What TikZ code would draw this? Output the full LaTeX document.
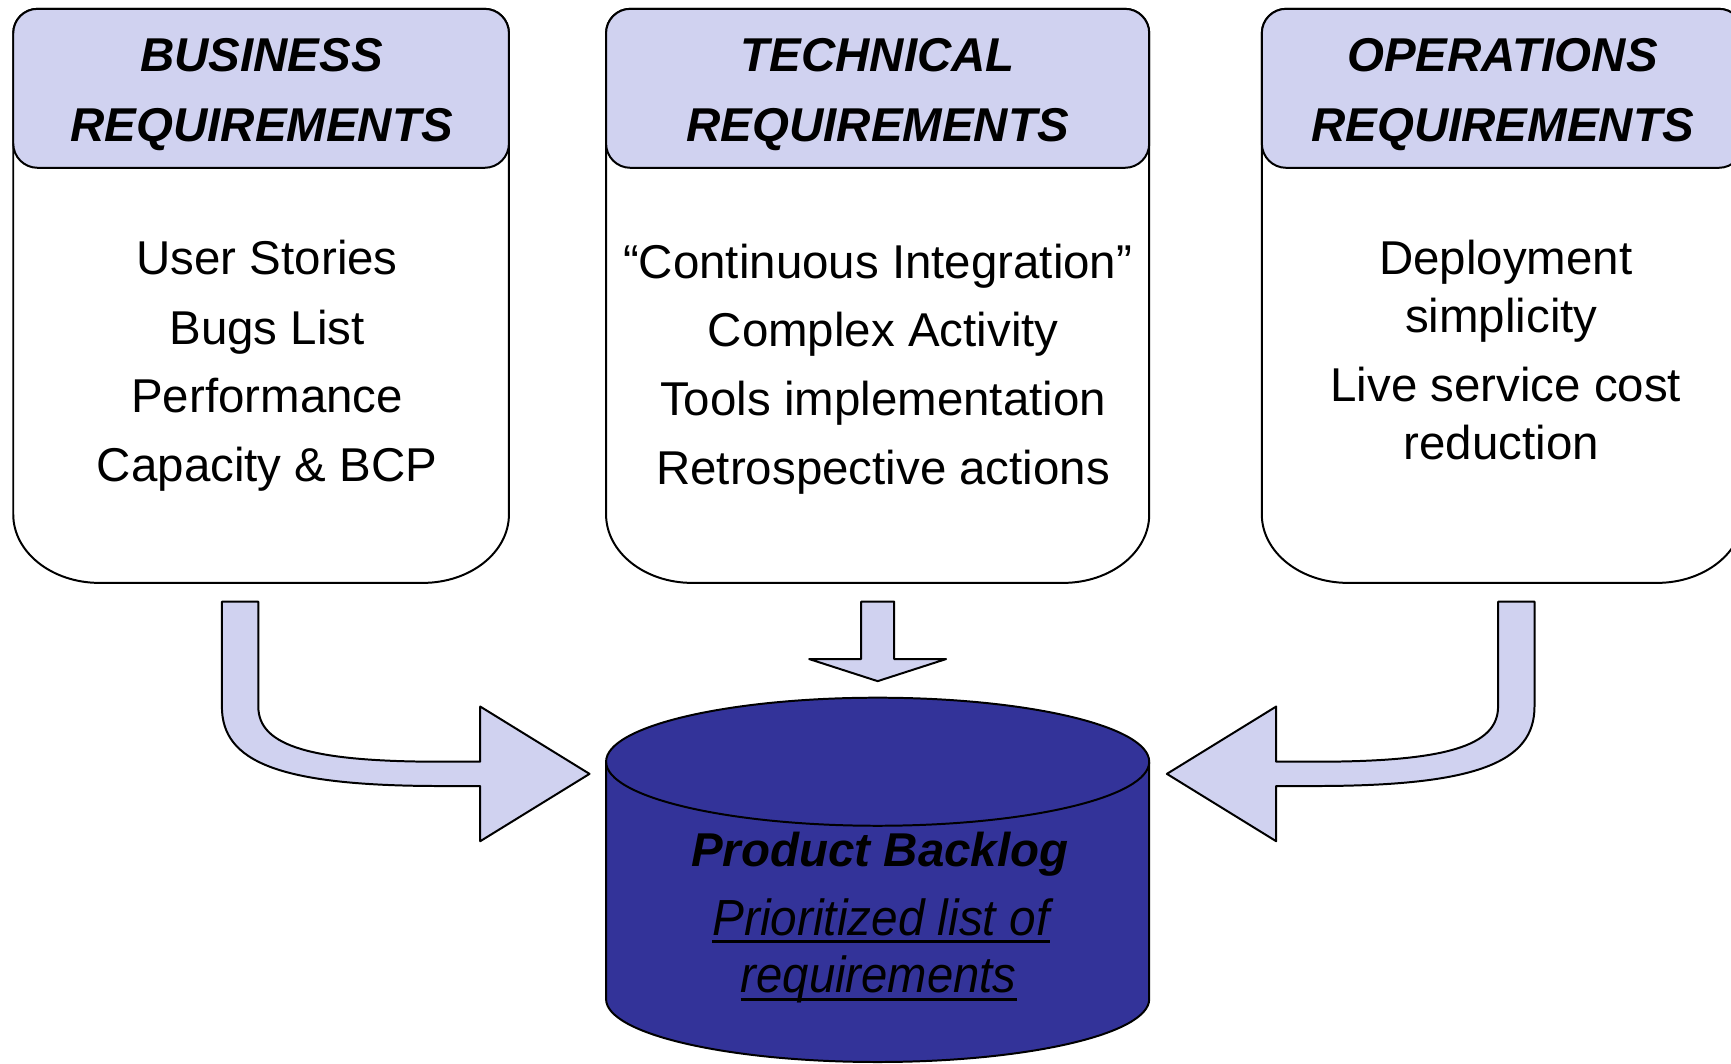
\documentclass[tikz,border=0pt]{standalone}
\usepackage{fontspec}
\setmainfont{Liberation Sans}
\definecolor{headfill}{RGB}{208,210,240}
\definecolor{backlogfill}{RGB}{51,51,153}
\tikzset{
  outline/.style={draw=black, line width=1.8pt, line join=round},
  panel/.style={outline, fill=white},
  panelhead/.style={outline, fill=headfill, rounded corners=22pt},
  blockarrow/.style={outline, fill=headfill},
  backlog/.style={outline, fill=backlogfill},
  headtext/.style={anchor=base, inner sep=0pt, font=\fontsize{43}{50}\selectfont\bfseries\itshape},
  itemtext/.style={anchor=base, inner sep=0pt, font=\fontsize{43}{50}\selectfont},
  titletext/.style={anchor=base, inner sep=0pt, font=\fontsize{43}{50}\selectfont\bfseries\itshape},
  subtext/.style={anchor=base, inner sep=0pt, font=\fontsize{46}{50}\selectfont\itshape},
  underbar/.style={line width=2.6pt},
  bendarrow/.pic={
    \draw[blockarrow] (201,545) -- (234,545) -- (234,640)
      .. controls (234,676) and (282,690) .. (400,690) -- (435,690)
      -- (435,640) -- (534,701) -- (435,762) -- (435,712) -- (400,712)
      .. controls (252,712) and (201,690) .. (201,640) -- cycle;
  }
}
% requirement panel: #1 left edge, #2 right edge
\newcommand\reqpanel[2]{%
  \draw[panel] (#1,30) arc[start angle=180,end angle=270,radius=22]
    -- ({#2-22},8) arc[start angle=270,end angle=360,radius=22]
    -- (#2,466) arc[start angle=0,end angle=90,x radius=78,y radius=62]
    -- ({#1+78},528) arc[start angle=90,end angle=180,x radius=78,y radius=62]
    -- cycle;
  \draw[panelhead] (#1,8) rectangle (#2,152);
}
\begin{document}
\begin{tikzpicture}[x=1pt,y=-1pt]
\useasboundingbox (0,0) rectangle (1568,963);
\clip (0,0) rectangle (1568,963);

% the three requirement panels
\reqpanel{12}{461}
\reqpanel{549}{1041}
\reqpanel{1143}{1579}

% business requirements
\node[headtext] (bizA) at (237,65) {BUSINESS};
\node[headtext] (bizB) at (237,128) {REQUIREMENTS};
\node[itemtext] (biz1) at (242,249) {User Stories};
\node[itemtext] (biz2) at (242,312) {Bugs List};
\node[itemtext] (biz3) at (242,374) {Performance};
\node[itemtext] (biz4) at (242,436) {Capacity \& BCP};

% technical requirements
\node[headtext] (techA) at (795,65) {TECHNICAL};
\node[headtext] (techB) at (795,128) {REQUIREMENTS};
\node[itemtext] (tech1) at (795,252) {“Continuous Integration”};
\node[itemtext] (tech2) at (800,314) {Complex Activity};
\node[itemtext] (tech3) at (800,376) {Tools implementation};
\node[itemtext] (tech4) at (800,439) {Retrospective actions};

% operations requirements
\node[headtext] (opsA) at (1361,65) {OPERATIONS};
\node[headtext] (opsB) at (1361,128) {REQUIREMENTS};
\node[itemtext] (ops1) at (1364,249) {Deployment};
\node[itemtext] (ops2) at (1360,301) {simplicity};
\node[itemtext] (ops3) at (1364,364) {Live service cost};
\node[itemtext] (ops4) at (1360,416) {reduction};

% arrows feeding the backlog
\draw[blockarrow] (780,545) -- (810,545) -- (810,597) -- (857,597)
  -- (795,617) -- (733,597) -- (780,597) -- cycle;
\pic (leftarrow) at (0,0) {bendarrow};
\begin{scope}[xshift=1591pt, xscale=-1]
  \pic[transform shape] (rightarrow) at (0,0) {bendarrow};
\end{scope}

% product backlog cylinder
\draw[backlog] (549,690) -- (549,905)
  arc[start angle=180,end angle=0,x radius=246,y radius=57]
  -- (1041,690)
  arc[start angle=0,end angle=-180,x radius=246,y radius=58] -- cycle;
\draw[outline] (549,690) arc[start angle=180,end angle=0,x radius=246,y radius=58];

\node[titletext] (pbA) at (797,785) {Product Backlog};
\node[subtext] (pbB) at (798,847) {\scalebox{0.94}[1]{Prioritized list of}};
\node[subtext] (pbC) at (796,899) {\scalebox{0.93}[1]{requirements}};
\draw[underbar] ([yshift=-6pt]pbB.base west) -- ([yshift=-6pt]pbB.base east);
\draw[underbar] ([yshift=-6pt]pbC.base west) -- ([yshift=-6pt]pbC.base east);
\end{tikzpicture}
\end{document}
